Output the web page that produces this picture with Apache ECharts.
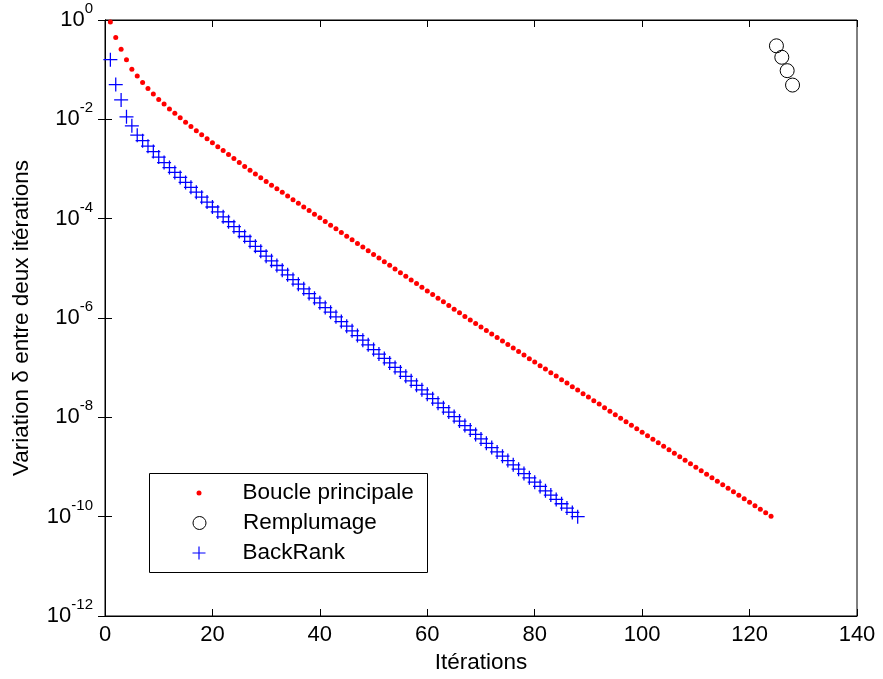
<!DOCTYPE html>
<html><head><meta charset="utf-8">
<script src="https://cdn.jsdelivr.net/npm/echarts@6/dist/echarts.min.js"></script>
<style>html,body{margin:0;padding:0;background:#fff}#c{width:883px;height:679px}</style>
</head><body><div id="c"></div>
<script>
// Series names
const seriesNames = ['Boucle principale', 'Remplumage', 'BackRank'];
const xAxisTitle = 'Itérations';
const yAxisTitle = 'Variation δ entre deux itérations';

// Boucle principale: log10(delta) for iterations 1..124
const boucleStart = 1;
const boucleLog10 = [
 -0.04,-0.35,-0.59,-0.80,-0.99,-1.13,-1.26,-1.38,-1.49,-1.60,
 -1.69,-1.79,-1.88,-1.97,-2.06,-2.145,-2.23,-2.31,-2.39,-2.47,
 -2.55,-2.63,-2.71,-2.79,-2.87,-2.95,-3.025,-3.10,-3.175,-3.25,
 -3.325,-3.40,-3.47,-3.545,-3.62,-3.69,-3.764,-3.837,-3.911,-3.984,
 -4.058,-4.131,-4.205,-4.278,-4.352,-4.425,-4.499,-4.572,-4.646,-4.719,
 -4.793,-4.866,-4.940,-5.013,-5.087,-5.160,-5.234,-5.307,-5.381,-5.454,
 -5.528,-5.601,-5.675,-5.748,-5.822,-5.895,-5.969,-6.042,-6.113,-6.183,
 -6.254,-6.324,-6.395,-6.465,-6.536,-6.606,-6.677,-6.747,-6.818,-6.888,
 -6.959,-7.029,-7.100,-7.170,-7.241,-7.311,-7.382,-7.452,-7.523,-7.593,
 -7.664,-7.734,-7.805,-7.875,-7.946,-8.016,-8.087,-8.157,-8.228,-8.298,
 -8.369,-8.439,-8.510,-8.580,-8.651,-8.721,-8.792,-8.862,-8.933,-9.003,
 -9.074,-9.144,-9.215,-9.285,-9.356,-9.426,-9.497,-9.567,-9.638,-9.708,
 -9.779,-9.849,-9.920,-9.990
];

// Remplumage
const remplumageIter = [125, 126, 127, 128];
const remplumageLog10 = [-0.52, -0.75, -1.02, -1.31];

// BackRank: log10(delta) for iterations 1..88
const backRankStart = 1;
const backRankLog10 = [
 -0.80,-1.30,-1.61,-1.95,-2.13,-2.32,-2.43,-2.54,-2.65,-2.76,
 -2.87,-2.97,-3.07,-3.17,-3.27,-3.369,-3.468,-3.567,-3.666,-3.765,
 -3.864,-3.963,-4.062,-4.161,-4.260,-4.359,-4.458,-4.557,-4.656,-4.755,
 -4.849,-4.943,-5.037,-5.131,-5.225,-5.319,-5.413,-5.507,-5.601,-5.695,
 -5.789,-5.883,-5.977,-6.071,-6.165,-6.259,-6.353,-6.447,-6.541,-6.635,
 -6.725,-6.815,-6.905,-6.995,-7.085,-7.175,-7.265,-7.355,-7.445,-7.535,
 -7.625,-7.715,-7.805,-7.895,-7.985,-8.075,-8.165,-8.255,-8.345,-8.435,
 -8.522,-8.609,-8.696,-8.783,-8.870,-8.957,-9.044,-9.131,-9.218,-9.305,
 -9.392,-9.479,-9.566,-9.653,-9.740,-9.827,-9.914,-10.001
];

// Axis ranges / ticks
const xMin = 0, xMax = 140, xStep = 20;
const yMin = 1e-12, yMax = 1, yDecadeStep = 2;

const FONT = "'Liberation Sans', Arial, Helvetica, sans-serif";
const plusPath = 'path://M-0.09,-1H0.09V1H-0.09Z M-1,-0.09H1V0.09H-1Z';

const toPoints = (start, logs) => logs.map((e, i) => [start + i, Math.pow(10, e)]);
const bouclePts = toPoints(boucleStart, boucleLog10);
const backRankPts = toPoints(backRankStart, backRankLog10);
const remplumagePts = remplumageIter.map((x, i) => [x, Math.pow(10, remplumageLog10[i])]);

function logLabel(v) {
  const e = Math.round(Math.log10(v));
  return '{b|10}{s|' + (e === 0 ? '0' : '-' + Math.abs(e)) + '}';
}
const richLab = {
  b: { fontSize: 22, lineHeight: 22, padding: [7.5, 0, 7.5, 0], color: '#000', fontFamily: FONT },
  s: { fontSize: 15, lineHeight: 15, padding: [0, 0, 22, 0], color: '#000', fontFamily: FONT }
};

const chart = echarts.init(document.getElementById('c'), null, { renderer: 'canvas' });
const tickStyle = { show: true, inside: true, length: 7, lineStyle: { color: '#000', width: 1 } };
const nameStyle = { fontSize: 22.5, color: '#000', fontFamily: FONT };
const legendText = (pad) => ({ fontSize: 22.5, color: '#000', fontFamily: FONT, lineHeight: 24, padding: [0, 0, 0, pad] });

const option = {
  animation: false,
  backgroundColor: '#fff',
  grid: { left: 105, right: 26, top: 20, bottom: 60, show: true, borderColor: '#000', borderWidth: 1, backgroundColor: 'transparent' },
  xAxis: [
    { type: 'value', min: xMin, max: xMax, interval: xStep, position: 'bottom',
      name: xAxisTitle, nameLocation: 'middle', nameGap: 35,
      nameTextStyle: nameStyle,
      axisLine: { show: true, lineStyle: { color: '#000', width: 1 } },
      axisTick: tickStyle,
      axisLabel: { fontSize: 22, color: '#000', fontFamily: FONT, margin: 8 },
      splitLine: { show: false } },
    { type: 'value', min: xMin, max: xMax, interval: xStep, position: 'top',
      axisLine: { show: true, lineStyle: { color: '#000', width: 1 } },
      axisTick: tickStyle, axisLabel: { show: false }, splitLine: { show: false } }
  ],
  yAxis: [
    { type: 'log', logBase: 10, min: yMin, max: yMax, interval: yDecadeStep, position: 'left',
      name: yAxisTitle, nameLocation: 'middle', nameGap: 72, nameRotate: 90,
      nameTextStyle: nameStyle,
      axisLine: { show: true, lineStyle: { color: '#000', width: 1 } },
      axisTick: tickStyle, minorTick: { show: false },
      axisLabel: { formatter: logLabel, rich: richLab, margin: 12 },
      splitLine: { show: false } },
    { type: 'log', logBase: 10, min: yMin, max: yMax, interval: yDecadeStep, position: 'right',
      axisLine: { show: true, lineStyle: { color: '#000', width: 1 } },
      axisTick: tickStyle, axisLabel: { show: false }, splitLine: { show: false } }
  ],
  graphic: [
    { type: 'rect', left: 149, top: 473, z: 3,
      shape: { width: 278, height: 99 },
      style: { fill: '#fff', stroke: '#000', lineWidth: 1 } }
  ],
  legend: [
    { data: [seriesNames[0]], left: 196.5, top: 481, orient: 'vertical', padding: 0, z: 5,
      itemWidth: 5, itemHeight: 5, icon: 'circle', itemStyle: { color: '#ff0000', opacity: 1 },
      textStyle: legendText(36) },
    { data: [seriesNames[1]], left: 192.5, top: 511, orient: 'vertical', padding: 0, z: 5,
      itemWidth: 13, itemHeight: 13, icon: 'circle',
      itemStyle: { color: 'rgba(0,0,0,0)', borderColor: '#000', borderWidth: 1, opacity: 1 },
      textStyle: legendText(32) },
    { data: [seriesNames[2]], left: 192.5, top: 541, orient: 'vertical', padding: 0, z: 5,
      itemWidth: 13, itemHeight: 13, icon: plusPath, itemStyle: { color: '#0000ff', opacity: 1 },
      textStyle: legendText(32) }
  ],
  series: [
    { name: seriesNames[0], type: 'scatter', symbol: 'circle', symbolSize: 5,
      itemStyle: { color: '#ff0000', opacity: 1 }, data: bouclePts, z: 2 },
    { name: seriesNames[1], type: 'scatter', symbol: 'circle', symbolSize: 14,
      itemStyle: { color: 'rgba(0,0,0,0)', borderColor: '#000', borderWidth: 1, opacity: 1 }, data: remplumagePts, z: 2 },
    { name: seriesNames[2], type: 'scatter', symbol: plusPath, symbolSize: 14,
      itemStyle: { color: '#0000ff', opacity: 1 }, data: backRankPts, z: 2 }
  ]
};
chart.setOption(option);
</script>
</body></html>
